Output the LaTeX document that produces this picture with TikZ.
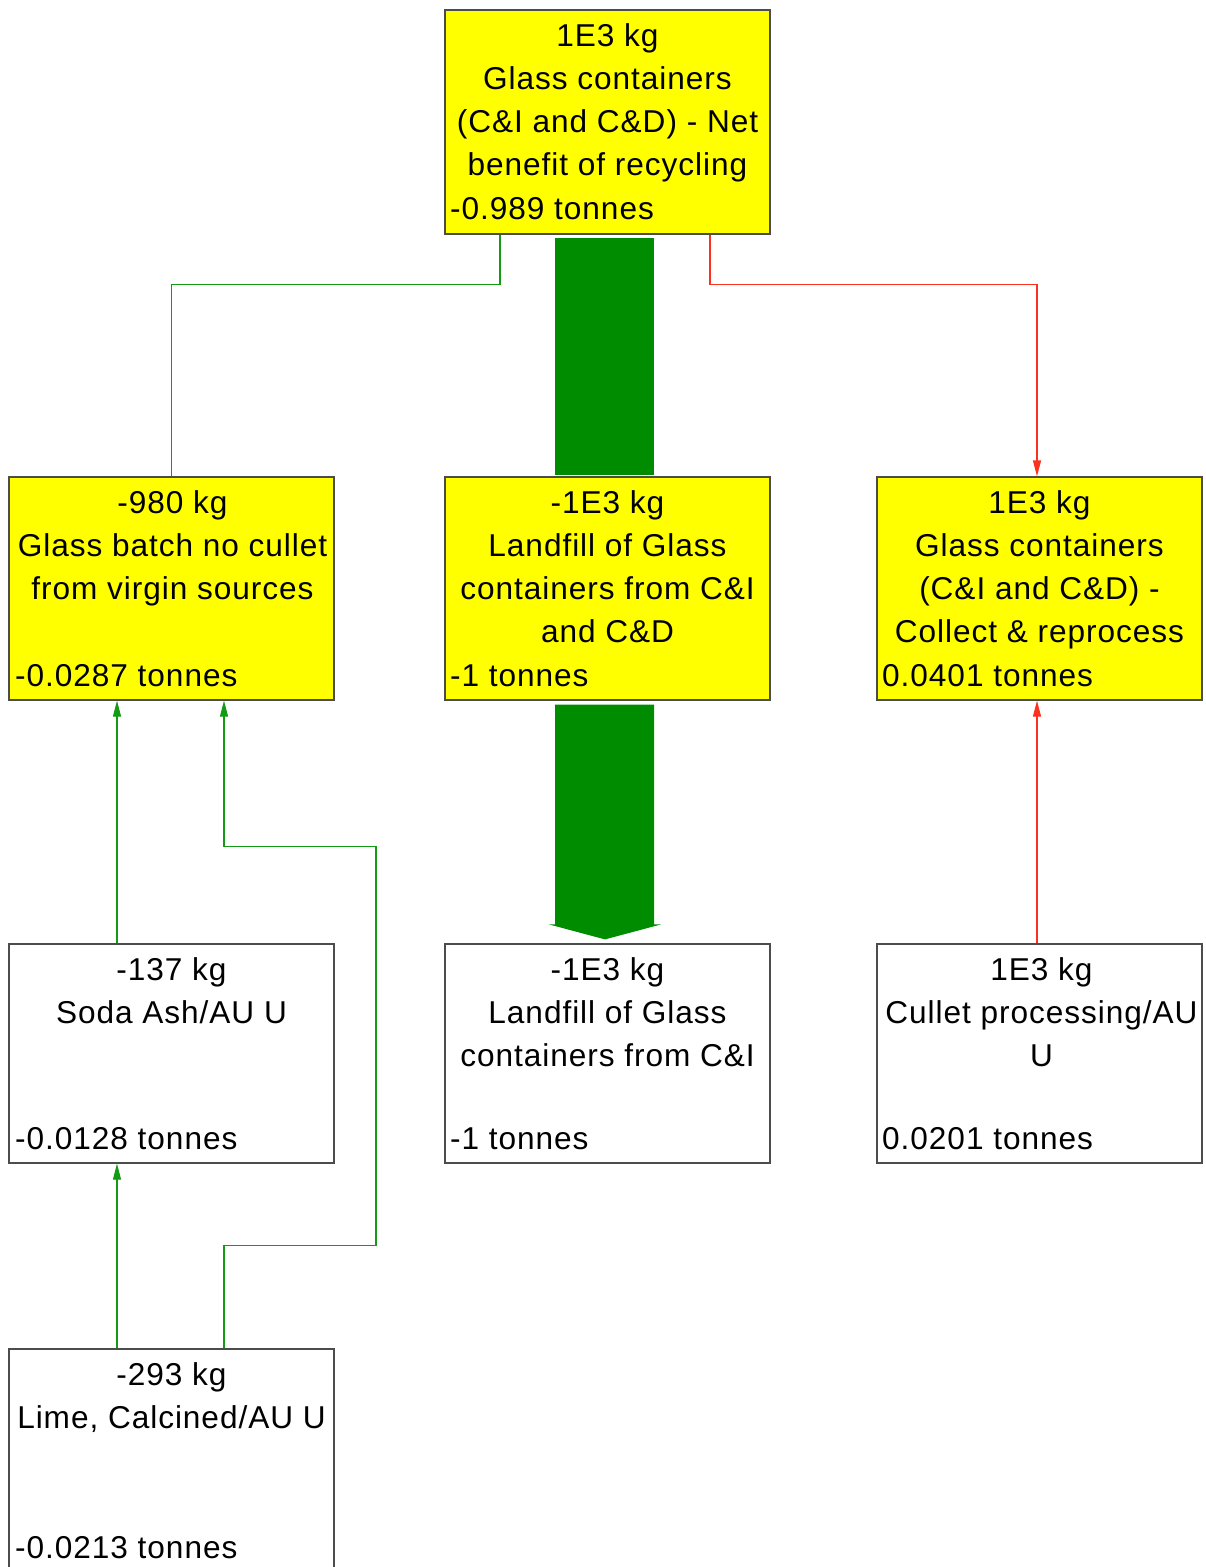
\documentclass[tikz,border=0pt]{standalone}
\usepackage{fontspec}
\setmainfont{Liberation Sans}[LetterSpace=3]
\usetikzlibrary{arrows.meta}
\definecolor{fgreen}{RGB}{0,140,0}
\definecolor{lgreen}{RGB}{20,155,20}
\definecolor{lred}{RGB}{250,50,30}
\definecolor{boxyellow}{RGB}{255,255,0}
\begin{document}
\begin{tikzpicture}[x=1pt,y=-1pt,
  box/.style={rectangle, draw=black!70, line width=1.2pt, minimum width=325pt, inner sep=0pt},
  ybox/.style={box, fill=boxyellow},
  txt/.style={anchor=north, align=center, inner sep=0pt, font=\fontsize{31.6}{43}\selectfont},
  val/.style={anchor=base west, inner sep=0pt, font=\fontsize{31.6}{43}\selectfont},
  gline/.style={draw=lgreen, line width=1.2pt},
  rline/.style={draw=lred, line width=1.2pt},
  tip/.style={-{Triangle[length=16pt,width=8pt]}},
  flow/.style={fill=fgreen}
]
\useasboundingbox (0,0) rectangle (1206,1567);

% boxes
\node[ybox, minimum height=224pt] (top) at (607.5,122) {};
\node[ybox, minimum height=223pt] (batch) at (171.5,588.5) {};
\node[ybox, minimum height=223pt] (land) at (607.5,588.5) {};
\node[ybox, minimum height=223pt] (coll) at (1039.5,588.5) {};
\node[box, minimum height=219pt] (soda) at (171.5,1053.5) {};
\node[box, minimum height=219pt] (landci) at (607.5,1053.5) {};
\node[box, minimum height=219pt] (cullet) at (1039.5,1053.5) {};
\node[box, minimum height=231pt] (lime) at (171.5,1464.5) {};

% texts
\node[txt] (ttop) at (607.5,16) {\strut 1E3 kg\\Glass containers\\(C\&I and C\&D) - Net\\benefit of recycling};
\node[val] (vtop) at (450,219) {-0.989 tonnes};
\node[txt] (tbatch) at (172.5,483) {\strut -980 kg\\Glass batch no cullet\\from virgin sources};
\node[val] (vbatch) at (15,686) {-0.0287 tonnes};
\node[txt] (tland) at (607.5,483) {\strut -1E3 kg\\Landfill of Glass\\containers from C\&I\\and C\&D};
\node[val] (vland) at (450,686) {-1 tonnes};
\node[txt] (tcoll) at (1039.5,483) {\strut 1E3 kg\\Glass containers\\(C\&I and C\&D) -\\Collect \& reprocess};
\node[val] (vcoll) at (882,686) {0.0401 tonnes};
\node[txt] (tsoda) at (171.5,950) {\strut -137 kg\\Soda Ash/AU U};
\node[val] (vsoda) at (15,1149) {-0.0128 tonnes};
\node[txt] (tlandci) at (607.5,950) {\strut -1E3 kg\\Landfill of Glass\\containers from C\&I};
\node[val] (vlandci) at (450,1149) {-1 tonnes};
\node[txt] (tcullet) at (1041.5,950) {\strut 1E3 kg\\Cullet processing/AU\\U};
\node[val] (vcullet) at (882,1149) {0.0201 tonnes};
\node[txt] (tlime) at (171.5,1355) {\strut -293 kg\\Lime, Calcined/AU U};
\node[val] (vlime) at (15,1558) {-0.0213 tonnes};

% thick flows
\fill[flow] ([xshift=-52.5pt,yshift=-3pt]top.south) rectangle ([xshift=46.5pt,yshift=1pt]land.north);
\fill[flow] ([xshift=-52.5pt,yshift=-4pt]land.south) -- ([xshift=46.5pt,yshift=-4pt]land.south)
  -- ([xshift=46.5pt,yshift=19pt]landci.north) -- ([xshift=53.5pt,yshift=19pt]landci.north)
  -- ([xshift=-2.5pt,yshift=4pt]landci.north) -- ([xshift=-58.5pt,yshift=19pt]landci.north)
  -- ([xshift=-52.5pt,yshift=19pt]landci.north) -- cycle;

% thin connectors
\draw[gline] ([xshift=-107.5pt]top.south) -- ++(0,50) -| (batch.north);
\draw[rline, tip] ([xshift=102.5pt]top.south) -- ++(0,50) -| ([xshift=-2.5pt]coll.north);
\draw[gline, tip] ([xshift=-54.5pt]soda.north) -- ([xshift=-54.5pt]batch.south);
\draw[gline, tip] ([xshift=52.5pt]lime.north) -- ++(0,-103) -- ++(152,0) -- ++(0,-399) -- ++(-152,0) -- ([xshift=52.5pt]batch.south);
\draw[gline, tip] ([xshift=-54.5pt]lime.north) -- ([xshift=-54.5pt]soda.south);
\draw[rline, tip] ([xshift=-2.5pt]cullet.north) -- ([xshift=-2.5pt]coll.south);
\end{tikzpicture}
\end{document}
